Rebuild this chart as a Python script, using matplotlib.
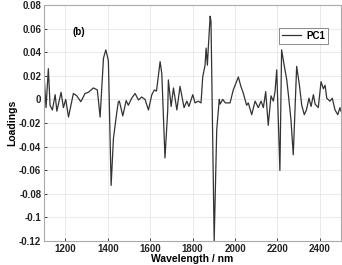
import matplotlib.pyplot as plt
from matplotlib.ticker import FuncFormatter

# PC1 loadings (b)
wavelength = [1100, 1109, 1120, 1128, 1139, 1152, 1160, 1180, 1191, 1202, 1215,
              1238, 1254, 1273, 1293, 1309, 1332, 1351, 1364, 1380, 1391, 1403,
              1416, 1427, 1442, 1450, 1455, 1471, 1487, 1497, 1513, 1529, 1545,
              1560, 1576, 1592, 1608, 1620, 1630, 1647, 1655, 1670, 1683, 1686,
              1699, 1710, 1726, 1741, 1760, 1773, 1783, 1801, 1812, 1827, 1840,
              1848, 1859, 1864, 1870, 1875, 1883, 1887, 1902, 1914, 1926, 1930,
              1942, 1955, 1977, 1992, 2016, 2028, 2039, 2055, 2063, 2079, 2095,
              2110, 2123, 2134, 2145, 2157, 2170, 2181, 2189, 2197, 2212, 2220,
              2233, 2244, 2252, 2264, 2275, 2291, 2304, 2315, 2327, 2337, 2349,
              2359, 2370, 2378, 2393, 2406, 2417, 2425, 2433, 2448, 2459, 2472,
              2485, 2495, 2500]
loading = [0.020, -0.007, 0.026, -0.005, -0.009, 0.004, -0.010, 0.006, -0.007, 0.000, -0.015,
           0.005, 0.003, -0.002, 0.005, 0.006, 0.0097, 0.008, -0.015, 0.035, 0.042, 0.033,
           -0.073, -0.033, -0.012, -0.002, -0.0015, -0.014, -0.001, -0.005, 0.001, 0.005, -0.0005,
           0.002, 0.000, -0.009, 0.004, 0.008, 0.007, 0.032, 0.022, -0.0497, -0.009, 0.0165,
           -0.006, 0.0097, -0.009, 0.011, -0.007, -0.0015, -0.006, 0.004, -0.003, -0.0015, -0.003,
           0.019, 0.029, 0.0435, 0.029, 0.046, 0.0705, 0.066, -0.120, -0.026, 0.000, -0.004,
           0.000, -0.003, -0.003, 0.008, 0.019, 0.011, 0.0055, -0.005, -0.003, -0.013, -0.0015,
           -0.007, -0.0015, -0.007, 0.0066, -0.022, 0.003, -0.0015, 0.0066, 0.025, -0.0603, 0.042,
           0.028, 0.017, 0.004, -0.017, -0.047, 0.028, 0.012, -0.005, -0.013, -0.009, 0.001,
           -0.006, 0.004, -0.004, -0.007, 0.015, 0.009, 0.012, 0.001, -0.0015, 0.001, -0.009,
           -0.013, -0.007, -0.010]

xticks = [1200, 1400, 1600, 1800, 2000, 2200, 2400]
yticks = [-0.12, -0.1, -0.08, -0.06, -0.04, -0.02, 0, 0.02, 0.04, 0.06, 0.08]

plt.rcParams['font.family'] = ['Liberation Sans', 'DejaVu Sans']
plt.rcParams['font.weight'] = 'bold'

fig = plt.figure(figsize=(3.42, 2.65), dpi=100)
ax = fig.add_axes([0.129, 0.091, 0.868, 0.890])

ax.plot(wavelength, loading, color='#333333', lw=0.9, label='PC1')
ax.set_xlim(1100, 2500)
ax.set_ylim(-0.12, 0.08)
ax.set_xticks(xticks)
ax.set_yticks(yticks)
ax.yaxis.set_major_formatter(FuncFormatter(lambda v, p: '%g' % round(v, 2)))
ax.grid(True, color='#e6e6e6', lw=0.6)
ax.set_axisbelow(True)
ax.tick_params(direction='in', length=2.5, width=0.6, labelsize=7, colors='#222222', pad=2)
for s in ax.spines.values():
    s.set_color('#aaaaaa')
    s.set_linewidth(0.8)

ax.set_xlabel('Wavelength / nm', fontsize=7.5, fontweight='bold', labelpad=0)
ax.set_ylabel('Loadings', fontsize=7.5, fontweight='bold', labelpad=1)
ax.text(1232, 0.057, '(b)', fontsize=7, fontweight='bold', ha='left', va='center')

leg = ax.legend(loc='upper right', bbox_to_anchor=(0.956, 0.903), fontsize=7, frameon=True,
                fancybox=False, edgecolor='#555555', handlelength=2.0, borderpad=0.3,
                handletextpad=0.5, borderaxespad=0)
leg.get_frame().set_linewidth(0.6)

fig.savefig('out.png', dpi=100)
